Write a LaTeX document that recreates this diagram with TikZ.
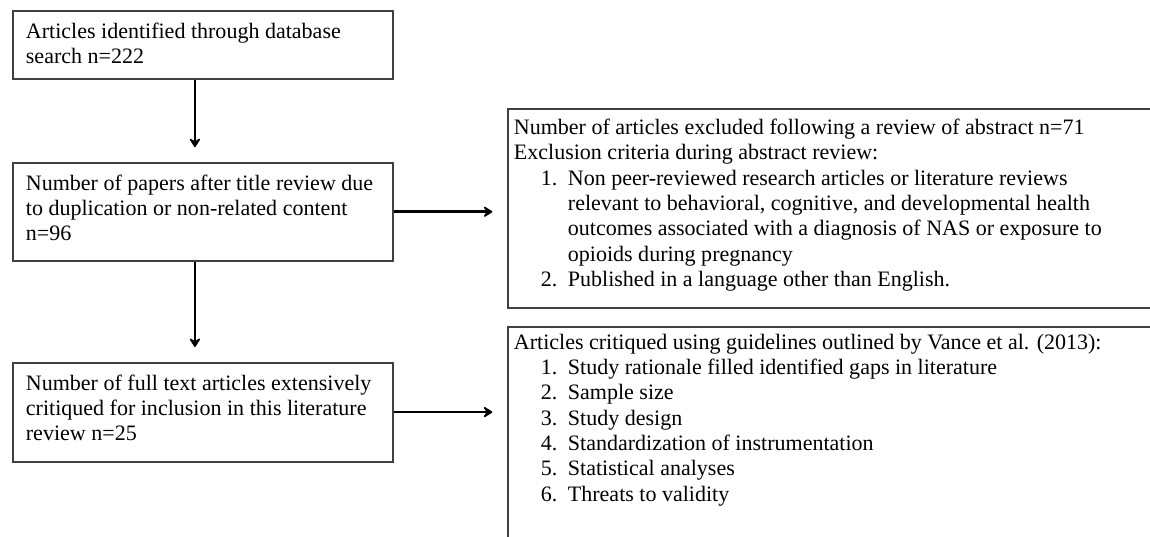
\documentclass[tikz,border=0pt]{standalone}
\usepackage{fontspec}
\setmainfont{Liberation Serif}
\usetikzlibrary{positioning,arrows.meta}
\newlength{\pxu}\setlength{\pxu}{0.545pt}
\newcommand{\boxlines}[3]{\parbox[c][#1\pxu][t]{#2\pxu}{\raggedright #3}}
\newcommand{\itemno}[1]{\hspace*{27\pxu}\makebox[27\pxu][l]{#1}}
\newcommand{\itemcont}{\hspace*{54\pxu}}
\begin{document}
\begin{tikzpicture}[x=0.545pt,y=-0.545pt,
    every node/.style={draw=black!75,line width=1pt,anchor=north west,inner xsep=7.085pt,inner ysep=6.54pt,font=\fontsize{12}{13.8}\selectfont},
    arrow/.style={line width=1.5pt,-{Stealth[length=6pt,width=7.5pt,inset=2.5pt,round]},shorten >=8pt}]
    \useasboundingbox (0,0) rectangle (1150,537);
    \clip (0,0) rectangle (1150,537);
    % left column
    \node (search) at (12,10) {\boxlines{44}{354}{Articles identified through database\\search n=222}};
    \node[below=44.69pt of search] (title) {\boxlines{74}{354}{Number of papers after title review due\\to duplication or non-related content\\n=96}};
    \node[below=54.5pt of title] (fulltext) {\boxlines{75}{354}{Number of full text articles extensively\\critiqued for inclusion in this literature\\review n=25}};
    % right column
    \node[inner xsep=3.27pt,inner ysep=5.45pt] (excluded) at (507,108) {\boxlines{179}{661}{Number of articles excluded following a review of abstract n=71\\
        Exclusion criteria during abstract review:\\
        \itemno{1.}Non peer-reviewed research articles or literature reviews\\
        \itemcont relevant to behavioral, cognitive, and developmental health\\
        \itemcont outcomes associated with a diagnosis of NAS or exposure to\\
        \itemcont opioids during pregnancy\\
        \itemno{2.}Published in a language other than English.}};
    \node[inner xsep=3.27pt,inner ysep=3.815pt] (critiqued) at (507,326) {\boxlines{260}{661}{Articles critiqued using guidelines outlined by Vance et al. (2013):\\
        \itemno{1.}Study rationale filled identified gaps in literature\\
        \itemno{2.}Sample size\\
        \itemno{3.}Study design\\
        \itemno{4.}Standardization of instrumentation\\
        \itemno{5.}Statistical analyses\\
        \itemno{6.}Threats to validity}};
    \draw[arrow] ([xshift=-4.36pt]search.south) -- ([xshift=-4.36pt]title.north);
    \draw[arrow] ([xshift=-4.36pt]title.south) -- ([xshift=-4.36pt]fulltext.north);
    \draw[arrow] (title.east) -- (title.east -| excluded.west);
    \draw[arrow] (fulltext.east) -- (fulltext.east -| critiqued.west);
\end{tikzpicture}
\end{document}
